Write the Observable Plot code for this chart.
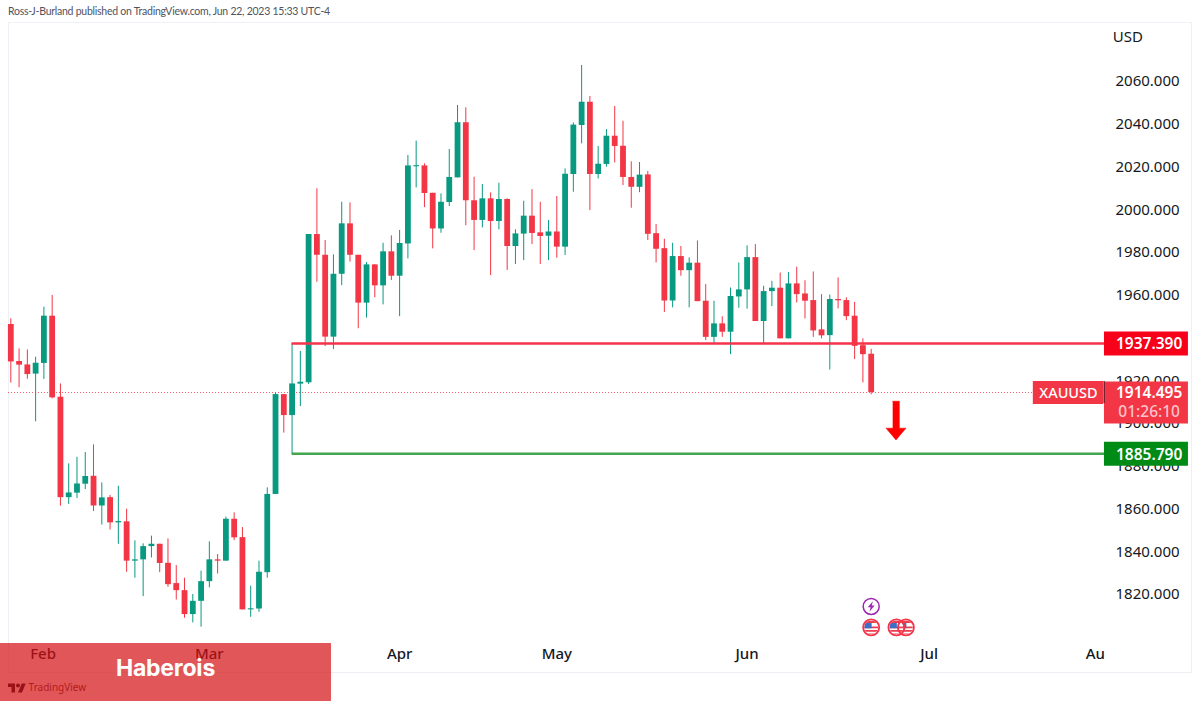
<!DOCTYPE html>
<html>
<head>
<meta charset="utf-8">
<script src="https://cdn.jsdelivr.net/npm/d3@7"></script>
<script src="https://cdn.jsdelivr.net/npm/@observablehq/plot@0.6"></script>
<style>
html,body{margin:0;padding:0;background:#fff;width:1200px;height:702px;overflow:hidden}
#wrap{position:relative;width:1200px;height:702px}
#wrap svg{display:block;position:absolute;left:0;top:0}
#pub{position:absolute;left:8px;top:5px;font:10.5px Lato,sans-serif;letter-spacing:-.25px;color:#50535e;white-space:nowrap}
#banner{position:absolute;left:0;top:643px;width:331px;height:58px;background:rgba(212,16,19,.7)}
#banner span{position:absolute;left:0;width:100%;top:10px;text-align:center;font:700 23px Inter,sans-serif;color:#fff;line-height:30px;letter-spacing:-.2px}
</style>
</head>
<body>
<div id="wrap">
<div id="chart"></div>
<div id="pub">Ross-J-Burland published on TradingView.com, Jun 22, 2023 15:33 UTC-4</div>
<div id="banner"><span>Haberois</span></div>
</div>
<script>
const opens = [1946.3,1929.0,1927.4,1923.1,1928.1,1950.2,1912.3,1865.3,1867.4,1871.6,1875.3,1861.4,1865.3,1853.5,1854.0,1835.6,1836.2,1842.4,1843.5,1834.6,1825.1,1821.8,1810.6,1816.8,1826.0,1836.2,1835.6,1855.2,1846.6,1812.8,1813.2,1830.2,1866.8,1913.5,1903.7,1918.4,1919.0,1988.4,1978.7,1940.4,1969.8,1993.4,1978.7,1956.3,1974.2,1964.4,1980.3,1968.9,1984.0,2020.1,2020.5,2007.7,1991.0,2003.4,2014.9,2040.7,2004.2,1995.0,2005.1,1994.5,2004.8,1982.8,1988.6,1997.0,1989.2,1987.6,1989.6,1982.5,2016.5,2039.4,2050.3,2016.5,2021.2,2034.4,2029.7,2015.1,2010.5,2016.3,1988.8,1981.8,1957.3,1978.1,1971.5,1975.0,1957.2,1940.3,1946.6,1942.7,1959.2,1962.5,1977.6,1947.7,1961.7,1963.3,1939.6,1965.3,1960.6,1957.5,1943.8,1941.1,1958.0,1957.5,1950.2,1936.4,1932.4];
const closes = [1928.8,1927.3,1922.9,1928.2,1950.2,1912.0,1865.3,1867.5,1871.7,1875.2,1861.4,1865.2,1853.5,1854.1,1835.6,1836.2,1842.4,1843.5,1834.5,1824.6,1821.8,1810.6,1816.8,1826.0,1836.2,1835.6,1855.2,1846.5,1812.8,1813.3,1830.4,1866.8,1913.5,1903.7,1918.5,1919.3,1988.4,1978.7,1940.4,1969.8,1993.4,1978.7,1956.3,1974.2,1964.4,1980.3,1968.9,1984.2,2020.5,2020.6,2007.6,1991.0,2003.5,2015.1,2040.7,2004.2,1995.0,2005.1,1994.5,2004.8,1982.8,1988.7,1997.0,1988.9,1987.5,1989.6,1982.5,2016.6,2039.6,2050.3,2016.5,2021.3,2034.4,2029.6,2015.1,2010.5,2016.2,1988.5,1981.5,1957.3,1978.1,1971.5,1975.0,1957.0,1940.3,1946.6,1942.7,1959.4,1962.5,1977.6,1947.7,1961.7,1963.3,1939.6,1965.3,1960.3,1957.2,1943.3,1941.0,1958.0,1957.4,1950.0,1936.1,1932.2,1914.495];
const highs = [1949.0,1934.9,1934.4,1931.0,1954.4,1959.9,1918.5,1881.1,1884.2,1886.4,1890.0,1872.2,1866.3,1870.6,1859.9,1845.1,1843.7,1847.3,1843.5,1846.0,1833.5,1827.6,1820.0,1830.9,1844.6,1838.7,1856.2,1858.2,1851.3,1823.9,1835.6,1869.9,1914.2,1913.5,1937.39,1933.7,1988.4,2009.8,1985.6,1978.9,2003.5,2003.2,1978.7,1975.3,1974.3,1984.3,1987.8,1990.3,2025.4,2032.1,2021.5,2007.7,2007.4,2028.2,2048.8,2047.7,2015.2,2011.8,2007.9,2012.4,2005.1,1990.6,2004.0,2009.4,2003.5,1995.0,2006.2,2019.1,2040.6,2067.5,2053.0,2029.6,2037.5,2048.3,2041.4,2022.4,2022.1,2017.9,1993.1,1986.2,1984.3,1982.8,1977.5,1985.4,1965.0,1957.2,1949.9,1963.4,1975.1,1983.1,1983.7,1964.2,1966.5,1970.4,1970.6,1973.1,1966.8,1970.9,1960.3,1960.1,1968.1,1958.8,1956.7,1939.6,1934.7];
const lows = [1918.9,1916.7,1920.7,1900.8,1920.6,1911.5,1861.3,1862.1,1864.9,1869.1,1858.8,1852.5,1850.2,1843.5,1830.4,1827.6,1819.0,1837.1,1830.2,1823.4,1817.4,1808.9,1806.7,1804.7,1823.1,1829.6,1835.6,1845.2,1812.8,1809.3,1811.7,1827.6,1866.8,1895.5,1885.79,1907.9,1918.2,1966.1,1936.0,1934.6,1964.5,1975.5,1944.3,1949.3,1958.8,1955.5,1966.9,1950.0,1977.0,2010.2,2001.0,1981.7,1989.0,2001.5,2014.9,1992.5,1980.9,1991.5,1969.2,1990.6,1971.6,1974.4,1976.2,1983.7,1974.4,1976.2,1977.3,1978.6,2008.2,2030.8,1999.6,2014.4,2019.9,2021.9,2011.3,2000.7,2008.0,1985.6,1975.1,1951.9,1954.1,1968.9,1954.1,1957.0,1938.8,1937.5,1940.3,1932.2,1953.9,1953.5,1947.7,1937.5,1954.7,1939.6,1939.6,1956.4,1948.9,1940.3,1939.6,1925.0,1953.6,1948.1,1929.9,1919.0,1913.4];

const priceTicks = [1820,1840,1860,1880,1900,1920,1940,1960,1980,2000,2020,2040,2060];
const monthIdx = [3.9,24,47,66,89,111,131.1];
const monthNames = ["Feb","Mar","Apr","May","Jun","Jul","Au"];
const resistance = 1937.39, support = 1885.79, last = 1914.495;
const levelStart = 34, levelEnd = 132.2, lastIdx = 104;
const arrowIdx = [106.6,107.4,107.4,108.2,107.0,105.8,106.6];
const arrowPrice = [1910.4,1910.4,1897.8,1897.8,1892.3,1897.8,1897.8];
const flagEvents = [{i:104,p:1804.6},{i:108.2,p:1804.6},{i:107.05,p:1804.6}];
const boltEvents = [{i:104,p:1814.4}];

const UP = "#089981", DOWN = "#f23645";
const candles = opens.map((o,i)=>({i,o,c:closes[i],h:highs[i],l:lows[i],col:closes[i]>=o?UP:DOWN}));
const tagA = 132.2, tagB = 142.35, tagMid = 137.6;

const flagSvg = "data:image/svg+xml,"+encodeURIComponent('<svg xmlns="http://www.w3.org/2000/svg" viewBox="0 0 16 16"><rect width="16" height="16" fill="#fff"/><rect y="7" width="16" height="2" fill="#e8404f"/><rect y="11" width="16" height="2" fill="#e8404f"/><rect y="15" width="16" height="1" fill="#e8404f"/><rect width="16" height="3" fill="#e8404f"/><rect y="3" width="8.5" height="6" fill="#3d6fc4"/></svg>');
const boltSvg = "data:image/svg+xml,"+encodeURIComponent('<svg xmlns="http://www.w3.org/2000/svg" viewBox="0 0 16 16"><path d="M10 2 4 9h3.4L6 14l6-7H8.6z" fill="#9c27b0"/></svg>');
const logoSvg = "data:image/svg+xml,"+encodeURIComponent('<svg xmlns="http://www.w3.org/2000/svg" viewBox="0 0 36 28"><path d="M14 22H7V11H0V4h14v18zM28 22h-8l7.5-18h8L28 22z" fill="#131722"/><circle cx="20" cy="8" r="4" fill="#131722"/></svg>');

const font = '"Noto Sans",sans-serif';
const chart = Plot.plot({
  width:1200, height:702,
  marginLeft:8, marginRight:9, marginTop:22, marginBottom:30,
  style:{fontFamily:font, background:"#fff", overflow:"visible"},
  x:{type:"linear", domain:[-0.278,142.72]},
  y:{type:"linear", domain:[1783.5,2087.6]},
  marks:[
    Plot.frame({stroke:"#eef0f5"}),
    Plot.axisY(priceTicks,{anchor:"right",tickSize:0,tickPadding:0,textAnchor:"start",dx:-76,fontSize:15,fill:"#131722",tickFormat:d=>d.toFixed(3),label:null}),
    Plot.axisX(monthIdx,{anchor:"bottom",tickSize:0,tickPadding:0,dy:-24,fontSize:15,fontWeight:500,fill:"#131722",tickFormat:d=>monthNames[monthIdx.indexOf(d)],label:null}),
    Plot.text(["USD"],{x:[133.2],y:[2080.6],text:d=>d,textAnchor:"start",fontSize:15,fill:"#131722"}),
    Plot.ruleY([last],{x1:-0.278,x2:123.7,stroke:DOWN,strokeWidth:1,strokeDasharray:"1 2",strokeOpacity:.8}),
    Plot.ruleX(candles,{x:"i",y1:"l",y2:"h",stroke:"col",strokeWidth:1}),
    Plot.ruleX(candles,{x:"i",y1:"o",y2:"c",stroke:"col",strokeWidth:5.8}),
    Plot.ruleY([resistance],{x1:levelStart,x2:levelEnd,stroke:"#f5334a",strokeWidth:2.5}),
    Plot.ruleY([support],{x1:levelStart,x2:levelEnd,stroke:"#43a64f",strokeWidth:2.5}),
    Plot.line(arrowIdx.map((x,k)=>({x,y:arrowPrice[k]})),{x:"x",y:"y",fill:"#ff0000",stroke:"#ff0000",strokeWidth:.6}),
    Plot.image(flagEvents,{x:"i",y:"p",src:()=>flagSvg,r:7}),
    Plot.dot(flagEvents,{x:"i",y:"p",r:8,stroke:"#f5334a",strokeWidth:1.8,fill:"none"}),
    Plot.image(boltEvents,{x:"i",y:"p",src:()=>boltSvg,r:7}),
    Plot.dot(boltEvents,{x:"i",y:"p",r:8,stroke:"#9c27b0",strokeWidth:1.5,fill:"none"}),
    Plot.ruleY([resistance],{x1:tagA,x2:tagB,stroke:"#f7001a",strokeWidth:24}),
    Plot.ruleY([support],{x1:tagA,x2:tagB,stroke:"#008a16",strokeWidth:24}),
    Plot.ruleY([last],{x1:123.6,x2:132.1,stroke:DOWN,strokeWidth:23}),
    Plot.ruleY([last],{x1:tagA,x2:tagB,stroke:DOWN,strokeWidth:42,dy:10}),
    Plot.ruleX([132.15],{y1:last,y2:last,stroke:"#131722",strokeWidth:1,insetTop:-11,insetBottom:-11}),
    Plot.text(["1937.390"],{x:[tagMid],y:[resistance],text:d=>d,fill:"#fff",fontSize:15.5,fontWeight:600}),
    Plot.text(["1885.790"],{x:[tagMid],y:[support],dy:1,text:d=>d,fill:"#fff",fontSize:15.5,fontWeight:600}),
    Plot.text(["1914.495"],{x:[tagMid],y:[last],dy:1,text:d=>d,fill:"#fff",fontSize:15.5,fontWeight:600}),
    Plot.text(["01:26:10"],{x:[tagMid],y:[last],dy:20,text:d=>d,fill:"#fbc3c9",fontSize:15.5,fontWeight:500}),
    Plot.text(["XAUUSD"],{x:[127.85],y:[last],dy:1,text:d=>d,fill:"#fff",fontSize:14.5,fontWeight:500}),
    Plot.image([0],{x:[0.75],y:[1776],src:()=>logoSvg,width:18,height:14}),
    Plot.text(["TradingView"],{x:[2.15],y:[1776.3],text:d=>d,textAnchor:"start",fontSize:10,fill:"#5a3a3a"})
  ]
});
document.getElementById("chart").appendChild(chart);
</script>
</body>
</html>
